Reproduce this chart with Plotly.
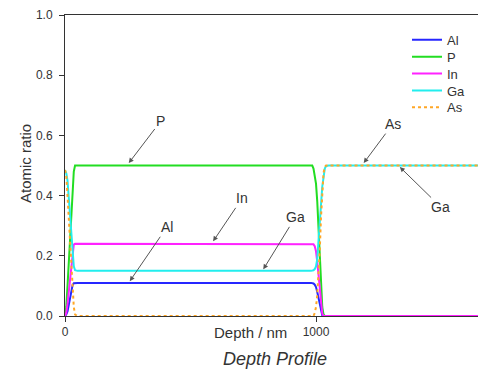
import plotly.graph_objects as go

# ---- data ----
depth_nm = [0, 5, 10, 15, 20, 25, 30, 35, 40, 50,
            980, 985, 990, 995, 1000, 1005, 1010, 1015, 1020, 1025, 1030, 1035, 1040, 1050, 1680]

al = [0.0, 0.005, 0.015, 0.035, 0.06, 0.085, 0.102, 0.109, 0.11, 0.11,
      0.11, 0.11, 0.108, 0.104, 0.096, 0.08, 0.058, 0.033, 0.012, 0.002, 0.0, 0.0, 0.0, 0.0, 0.0]
p = [0.0, 0.03, 0.10, 0.17, 0.24, 0.32, 0.41, 0.48, 0.5, 0.5,
     0.5, 0.5, 0.49, 0.47, 0.44, 0.38, 0.28, 0.18, 0.09, 0.03, 0.005, 0.0, 0.0, 0.0, 0.0]
in_ = [0.0, 0.01, 0.04, 0.08, 0.13, 0.18, 0.22, 0.237, 0.24, 0.24,
       0.24, 0.24, 0.238, 0.232, 0.215, 0.18, 0.13, 0.08, 0.035, 0.008, 0.0, 0.0, 0.0, 0.0, 0.0]
ga = [0.485, 0.475, 0.45, 0.39, 0.33, 0.26, 0.20, 0.165, 0.152, 0.15,
      0.15, 0.15, 0.152, 0.156, 0.165, 0.19, 0.24, 0.30, 0.37, 0.43, 0.47, 0.49, 0.498, 0.5, 0.5]
as_ = [0.485, 0.47, 0.40, 0.33, 0.26, 0.18, 0.09, 0.03, 0.005, 0.0,
       0.0, 0.0, 0.0, 0.01, 0.03, 0.07, 0.13, 0.22, 0.33, 0.42, 0.475, 0.495, 0.5, 0.5, 0.5]

series_names = ["Al", "P", "In", "Ga", "As"]
series_values = [al, p, in_, ga, as_]
series_colors = ["#2626ff", "#22dd22", "#ff22ff", "#22eeee", "#ffa726"]
series_dash = ["solid", "solid", "solid", "solid", "dot"]

x_tick_vals = [0, 1000]
x_tick_text = ["0", "1000"]
y_tick_vals = [0.0, 0.2, 0.4, 0.6, 0.8, 1.0]
y_tick_text = ["0.0", "0.2", "0.4", "0.6", "0.8", "1.0"]

# annotations: label, head x (nm), head y, text offset (px)
ann_labels = ["P", "In", "Al", "Ga", "As", "Ga"]
ann_x = [254, 590, 258, 790, 1190, 1334]
ann_y = [0.508, 0.248, 0.1155, 0.155, 0.508, 0.495]
ann_ax = [32, 29, 37, 32, 29, 41]
ann_ay = [-42, -43, -54, -52, -39, 40]

FONT = "Liberation Sans, Arial, sans-serif"
TXT = "#333333"

# page body margin offsets the figure by 8 px
OFF = 8
WIN_W, WIN_H = 486, 372
W, H = WIN_W - OFF, WIN_H - OFF
# plot area in window pixels
PL, PR, PT, PB = 65, 486, 13, 316
L, R, T = PL - OFF, W - (PR - OFF), PT - OFF
B = H - (PB - OFF)
pw, ph = W - L - R, H - T - B

def px_to_paper_x(px):
    return (px - PL) / pw

def px_to_paper_y(py):
    return (PB - py) / ph

fig = go.Figure()
legend_ids = ["legend", "legend2", "legend3", "legend4", "legend5"]
legend_py = [38, 55, 72, 89, 106]
for i, name in enumerate(series_names):
    fig.add_trace(go.Scatter(
        x=depth_nm, y=series_values[i], mode="lines", name=name,
        line=dict(color=series_colors[i], width=2, dash=series_dash[i]),
        legend=legend_ids[i], showlegend=True,
    ))

layout_legends = {}
for i, lid in enumerate(legend_ids):
    layout_legends[lid] = dict(
        x=px_to_paper_x(407), y=px_to_paper_y(legend_py[i]),
        xanchor="left", yanchor="middle",
        bgcolor="rgba(0,0,0,0)", borderwidth=0,
        font=dict(family=FONT, size=13, color=TXT),
    )

annotations = []
for i, lab in enumerate(ann_labels):
    annotations.append(dict(
        x=ann_x[i], y=ann_y[i], xref="x", yref="y", text=lab,
        showarrow=True, ax=ann_ax[i], ay=ann_ay[i],
        arrowhead=2, arrowsize=1, arrowwidth=1, arrowcolor="#555555",
        font=dict(family=FONT, size=14, color=TXT),
    ))

annotations.append(dict(
    x=px_to_paper_x(25), y=px_to_paper_y(163), xref="paper", yref="paper",
    text="Atomic ratio", showarrow=False, textangle=-90,
    font=dict(family=FONT, size=15, color=TXT), xanchor="center", yanchor="middle",
))
annotations.append(dict(
    x=px_to_paper_x(250), y=px_to_paper_y(333), xref="paper", yref="paper",
    text="Depth / nm", showarrow=False,
    font=dict(family=FONT, size=15, color=TXT), xanchor="center", yanchor="middle",
))
annotations.append(dict(
    x=px_to_paper_x(275), y=px_to_paper_y(359), xref="paper", yref="paper",
    text="<i>Depth Profile</i>", showarrow=False,
    font=dict(family=FONT, size=18, color=TXT), xanchor="center", yanchor="middle",
))

fig.update_layout(
    width=W, height=H,
    margin=dict(l=L, r=R, t=T, b=B, pad=0),
    paper_bgcolor="white", plot_bgcolor="white",
    font=dict(family=FONT, size=12, color=TXT),
    annotations=annotations,
    **layout_legends,
)

fig.update_xaxes(
    range=[0, pw / 0.251], tickmode="array", tickvals=x_tick_vals, ticktext=x_tick_text,
    showline=True, linecolor="#333333", linewidth=1, mirror=True,
    ticks="outside", ticklen=5, tickcolor="#333333",
    showgrid=False, zeroline=False,
    tickfont=dict(family=FONT, size=12, color=TXT),
)
fig.update_yaxes(
    range=[0, 1.0001], tickmode="array", tickvals=y_tick_vals, ticktext=y_tick_text,
    showline=True, linecolor="#333333", linewidth=1,
    ticks="outside", ticklen=5, tickcolor="#333333", ticklabelstandoff=4,
    ticklabeloverflow="allow",
    showgrid=False, zeroline=False,
    tickfont=dict(family=FONT, size=12, color=TXT),
)

fig.write_html("out.html")
